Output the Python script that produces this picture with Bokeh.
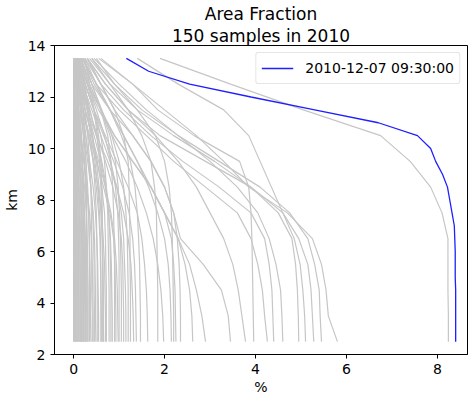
from bokeh.plotting import figure
from bokeh.models import Range1d, FixedTicker, Legend, Title
from bokeh.embed import file_html
from bokeh.resources import INLINE

# heights (km) of the gray profiles
Y_GRAY = [13.5, 12.5, 11.5, 10.5, 9.5, 8.5, 7.5, 6.5, 5.5, 4.5, 3.5, 2.5]
# heights (km) of the highlighted profile
Y_BLUE = [13.5, 13.0, 12.5, 12.0, 11.5, 11.0, 10.5, 10.0, 9.5, 9.0, 8.5, 8.0,
          7.5, 7.0, 6.5, 6.0, 5.5, 5.0, 4.5, 4.0, 3.5, 3.0, 2.5]
BLUE_LABEL = "2010-12-07 09:30:00"
BLUE_X = [1.16, 1.65, 2.55, 3.9, 5.3, 6.7, 7.56, 7.85, 7.96, 8.11, 8.22, 8.27,
          8.32, 8.37, 8.38, 8.39, 8.39, 8.39, 8.4, 8.4, 8.4, 8.4, 8.4]

# gray sample profiles (area fraction in %, top to bottom)
G_WIDE = [1.9, 3.45, 5.05, 6.75, 7.4, 7.85, 8.1, 8.23, 8.23, 8.23, 8.24, 8.24]

G_RIGHT = [
    [0.55, 1.3, 2.0, 2.7, 3.3, 3.85, 4.7, 5.25, 5.45, 5.55, 5.6, 5.8],
    [0.4, 0.9, 1.5, 2.3, 3.2, 4.1, 4.75, 5.15, 5.3, 5.4, 5.42, 5.45],
    [0.3, 0.7, 1.2, 1.9, 2.9, 3.9, 4.6, 4.95, 5.15, 5.22, 5.25, 5.28],
    [1.4, 2.3, 3.3, 3.85, 4.1, 4.35, 4.6, 4.85, 4.98, 5.04, 5.08, 5.1],
    [0.35, 0.8, 1.4, 2.2, 3.1, 3.9, 4.5, 4.8, 4.88, 4.92, 4.94, 4.95],
    [0.45, 1.0, 1.6, 2.3, 3.0, 3.6, 4.05, 4.3, 4.45, 4.55, 4.58, 4.6],
    [0.25, 0.6, 1.1, 1.7, 2.4, 3.2, 3.9, 4.2, 4.3, 4.36, 4.38, 4.4],
    [0.2, 0.5, 1.0, 1.6, 2.2, 2.9, 3.6, 3.9, 4.05, 4.15, 4.2, 4.26],
    [0.6, 1.3, 1.85, 2.65, 3.65, 3.85, 3.9, 3.92, 3.93, 3.94, 3.95, 3.96],
    [0.3, 0.7, 1.2, 1.8, 2.3, 2.7, 3.0, 3.3, 3.5, 3.62, 3.7, 3.78],
    [0.15, 0.4, 0.8, 1.3, 1.7, 2.0, 2.2, 2.35, 2.85, 3.25, 3.4, 3.45],
    [0.2, 0.45, 0.8, 1.1, 1.4, 1.7, 2.0, 2.3, 2.55, 2.7, 2.82, 2.9],
    [0.1, 0.3, 0.6, 0.9, 1.3, 1.7, 2.0, 2.3, 2.45, 2.55, 2.6, 2.62],
]

G_MID = [
    [0.3, 0.6, 0.9, 1.3, 1.7, 2.0, 2.2, 2.28, 2.32, 2.34, 2.35, 2.35],
    [0.1, 0.3, 0.55, 0.9, 1.3, 1.7, 2.0, 2.15, 2.2, 2.23, 2.24, 2.25],
    [0.5, 0.9, 1.4, 1.8, 2.0, 2.1, 2.15, 2.17, 2.18, 2.19, 2.2, 2.2],
    [0.2, 0.5, 0.8, 1.1, 1.4, 1.65, 1.85, 2.0, 2.08, 2.12, 2.14, 2.15],
    [0.15, 0.35, 0.6, 0.85, 1.15, 1.4, 1.6, 1.75, 1.85, 1.92, 1.96, 1.98],
    [0.4, 0.8, 1.2, 1.5, 1.7, 1.78, 1.82, 1.83, 1.84, 1.85, 1.85, 1.85],
    [0.1, 0.25, 0.45, 0.7, 0.95, 1.2, 1.4, 1.5, 1.56, 1.6, 1.62, 1.63],
    [0.25, 0.5, 0.8, 1.05, 1.25, 1.35, 1.4, 1.43, 1.45, 1.46, 1.47, 1.47],
    [0.05, 0.15, 0.3, 0.5, 0.75, 0.95, 1.1, 1.2, 1.26, 1.29, 1.31, 1.32],
    [0.3, 0.6, 0.9, 1.1, 1.2, 1.22, 1.23, 1.24, 1.24, 1.25, 1.25, 1.25],
    [0.1, 0.2, 0.4, 0.6, 0.8, 0.95, 1.05, 1.1, 1.12, 1.14, 1.15, 1.15],
    [0.15, 0.35, 0.6, 0.8, 0.92, 0.98, 1.01, 1.03, 1.04, 1.05, 1.05, 1.05],
    [0.05, 0.12, 0.25, 0.4, 0.55, 0.7, 0.82, 0.9, 0.94, 0.96, 0.97, 0.98],
    [0.2, 0.4, 0.6, 0.75, 0.82, 0.86, 0.88, 0.89, 0.9, 0.9, 0.9, 0.9],
    [0.08, 0.18, 0.3, 0.45, 0.6, 0.7, 0.77, 0.81, 0.83, 0.84, 0.85, 0.85],
    [0.1, 0.25, 0.45, 0.6, 0.68, 0.72, 0.75, 0.76, 0.77, 0.78, 0.78, 0.78],
    [0.03, 0.1, 0.2, 0.32, 0.44, 0.54, 0.61, 0.65, 0.68, 0.69, 0.7, 0.7],
    [0.15, 0.3, 0.45, 0.55, 0.6, 0.62, 0.63, 0.64, 0.64, 0.65, 0.65, 0.65],
    [0.05, 0.12, 0.22, 0.33, 0.43, 0.5, 0.55, 0.58, 0.59, 0.6, 0.6, 0.6],
    [0.02, 0.08, 0.16, 0.26, 0.35, 0.43, 0.48, 0.51, 0.53, 0.54, 0.55, 0.55],
    [0.06, 0.14, 0.26, 0.4, 0.52, 0.62, 0.68, 0.7, 0.71, 0.72, 0.72, 0.72],
    [0.12, 0.22, 0.36, 0.5, 0.62, 0.72, 0.77, 0.8, 0.81, 0.82, 0.82, 0.82],
    [0.04, 0.1, 0.2, 0.35, 0.5, 0.66, 0.8, 0.88, 0.91, 0.92, 0.93, 0.93],
    [0.18, 0.32, 0.5, 0.68, 0.82, 0.92, 0.97, 0.99, 1.0, 1.0, 1.0, 1.0],
    [0.08, 0.18, 0.34, 0.52, 0.7, 0.86, 0.98, 1.05, 1.08, 1.09, 1.1, 1.1],
    [0.22, 0.4, 0.62, 0.84, 1.0, 1.1, 1.15, 1.18, 1.19, 1.2, 1.2, 1.2],
    [0.12, 0.26, 0.44, 0.66, 0.88, 1.08, 1.22, 1.3, 1.34, 1.36, 1.37, 1.38],
]

G_LOW = [
    [0.00, 0.00, 0.00, 0.00, 0.00, 0.00, 0.00, 0.00, 0.00, 0.00, 0.00, 0.00],
    [0.01, 0.01, 0.01, 0.02, 0.02, 0.02, 0.02, 0.02, 0.02, 0.02, 0.02, 0.02],
    [0.00, 0.01, 0.02, 0.03, 0.03, 0.04, 0.04, 0.04, 0.04, 0.04, 0.04, 0.04],
    [0.02, 0.03, 0.04, 0.05, 0.06, 0.06, 0.06, 0.07, 0.07, 0.07, 0.07, 0.07],
    [0.01, 0.02, 0.04, 0.06, 0.07, 0.08, 0.09, 0.09, 0.09, 0.09, 0.10, 0.10],
    [0.03, 0.05, 0.07, 0.09, 0.10, 0.11, 0.12, 0.12, 0.12, 0.12, 0.12, 0.12],
    [0.00, 0.02, 0.04, 0.07, 0.10, 0.12, 0.13, 0.14, 0.14, 0.15, 0.15, 0.15],
    [0.05, 0.08, 0.10, 0.12, 0.14, 0.15, 0.16, 0.17, 0.17, 0.17, 0.17, 0.17],
    [0.02, 0.04, 0.07, 0.10, 0.13, 0.16, 0.18, 0.19, 0.19, 0.20, 0.20, 0.20],
    [0.08, 0.12, 0.15, 0.17, 0.19, 0.20, 0.21, 0.21, 0.22, 0.22, 0.22, 0.22],
    [0.01, 0.03, 0.06, 0.10, 0.14, 0.18, 0.21, 0.23, 0.24, 0.24, 0.25, 0.25],
    [0.04, 0.07, 0.11, 0.15, 0.19, 0.22, 0.24, 0.26, 0.27, 0.27, 0.27, 0.27],
    [0.10, 0.15, 0.20, 0.24, 0.27, 0.28, 0.29, 0.29, 0.30, 0.30, 0.30, 0.30],
    [0.02, 0.05, 0.09, 0.14, 0.19, 0.24, 0.28, 0.30, 0.31, 0.32, 0.32, 0.32],
    [0.06, 0.10, 0.16, 0.22, 0.27, 0.31, 0.33, 0.34, 0.35, 0.35, 0.35, 0.35],
    [0.03, 0.06, 0.11, 0.17, 0.23, 0.29, 0.33, 0.35, 0.36, 0.37, 0.37, 0.38],
    [0.12, 0.18, 0.25, 0.31, 0.35, 0.38, 0.39, 0.40, 0.40, 0.40, 0.41, 0.41],
    [0.01, 0.04, 0.09, 0.15, 0.22, 0.29, 0.35, 0.39, 0.41, 0.42, 0.43, 0.43],
    [0.07, 0.13, 0.20, 0.27, 0.33, 0.38, 0.42, 0.44, 0.45, 0.45, 0.46, 0.46],
    [0.04, 0.09, 0.15, 0.23, 0.31, 0.38, 0.43, 0.46, 0.47, 0.48, 0.48, 0.49],
    [0.15, 0.22, 0.30, 0.37, 0.43, 0.47, 0.50, 0.51, 0.52, 0.52, 0.52, 0.52],
    [0.00, 0.01, 0.01, 0.01, 0.01, 0.02, 0.02, 0.03, 0.03, 0.03, 0.03, 0.03],
    [0.01, 0.01, 0.02, 0.02, 0.03, 0.03, 0.05, 0.06, 0.06, 0.06, 0.06, 0.06],
    [0.02, 0.02, 0.03, 0.04, 0.05, 0.06, 0.07, 0.08, 0.08, 0.09, 0.09, 0.09],
    [0.00, 0.01, 0.03, 0.05, 0.07, 0.09, 0.10, 0.11, 0.11, 0.11, 0.11, 0.11],
    [0.03, 0.04, 0.05, 0.07, 0.09, 0.11, 0.13, 0.13, 0.14, 0.14, 0.14, 0.14],
    [0.01, 0.02, 0.04, 0.06, 0.09, 0.12, 0.14, 0.16, 0.16, 0.16, 0.16, 0.16],
    [0.04, 0.06, 0.08, 0.11, 0.14, 0.16, 0.18, 0.18, 0.18, 0.18, 0.18, 0.18],
    [0.00, 0.02, 0.05, 0.08, 0.12, 0.15, 0.18, 0.20, 0.21, 0.21, 0.21, 0.21],
    [0.06, 0.09, 0.12, 0.16, 0.19, 0.21, 0.23, 0.23, 0.23, 0.23, 0.23, 0.23],
    [0.02, 0.04, 0.08, 0.12, 0.16, 0.20, 0.23, 0.25, 0.26, 0.26, 0.26, 0.26],
    [0.09, 0.13, 0.17, 0.21, 0.24, 0.26, 0.28, 0.28, 0.28, 0.28, 0.29, 0.29],
    [0.18, 0.25, 0.33, 0.40, 0.47, 0.53, 0.57, 0.59, 0.60, 0.60, 0.61, 0.61],
    [0.10, 0.20, 0.32, 0.42, 0.50, 0.56, 0.60, 0.63, 0.64, 0.65, 0.65, 0.66],
    [0.25, 0.35, 0.45, 0.52, 0.57, 0.60, 0.62, 0.63, 0.64, 0.64, 0.64, 0.64],
]

X_TICKS = [0, 2, 4, 6, 8]
Y_TICKS = [2, 4, 6, 8, 10, 12, 14]
TITLE_1 = "Area Fraction"
TITLE_2 = "150 samples in 2010"

FONT = "DejaVu Sans"

p = figure(width=468, height=397, output_backend="svg", toolbar_location=None,
           x_range=Range1d(-0.42, 8.66), y_range=Range1d(2, 14),
           min_border_left=54, min_border_right=1, min_border_top=45,
           min_border_bottom=40)

for txt in (TITLE_2, TITLE_1):
    t = Title(text=txt, align="center", text_font=FONT,
              text_font_size="17px", text_font_style="normal",
              text_color="black", standoff=0, offset=0)
    p.add_layout(t, "above")

gray = [G_WIDE] + G_RIGHT + G_MID + G_LOW
p.multi_line(xs=gray, ys=[Y_GRAY] * len(gray), line_color="#c6c6c6",
             line_width=1.2)
blue = p.line(BLUE_X, Y_BLUE, line_color="#1f1fff", line_width=1.3)

legend = Legend(items=[(BLUE_LABEL, [blue])], location="top_right")
legend.label_text_font = FONT
legend.label_text_font_size = "14px"
legend.label_text_color = "black"
legend.border_line_color = "#cccccc"
legend.border_line_width = 1
legend.border_radius = 3
legend.background_fill_alpha = 0.9
legend.glyph_width = 32
legend.label_standoff = 12
legend.padding = 5
legend.margin = 7
legend.spacing = 0
p.add_layout(legend)

p.grid.visible = False
p.outline_line_color = "black"
p.outline_line_width = 1

for ax in (p.xaxis, p.yaxis):
    ax.major_label_text_font = FONT
    ax.major_label_text_font_size = "14px"
    ax.major_label_text_color = "black"
    ax.axis_label_text_font = FONT
    ax.axis_label_text_font_size = "14px"
    ax.axis_label_text_font_style = "normal"
    ax.axis_label_text_color = "black"
    ax.axis_line_color = "black"
    ax.major_tick_line_color = "black"
    ax.major_tick_out = 4
    ax.major_tick_in = 0
    ax.minor_tick_line_color = None

p.xaxis.ticker = FixedTicker(ticks=X_TICKS)
p.yaxis.ticker = FixedTicker(ticks=Y_TICKS)
p.xaxis.axis_label = "%"
p.yaxis.axis_label = "km"
p.xaxis.axis_label_standoff = 2
p.yaxis.axis_label_standoff = 5

open("out.html", "w").write(file_html(p, INLINE))
